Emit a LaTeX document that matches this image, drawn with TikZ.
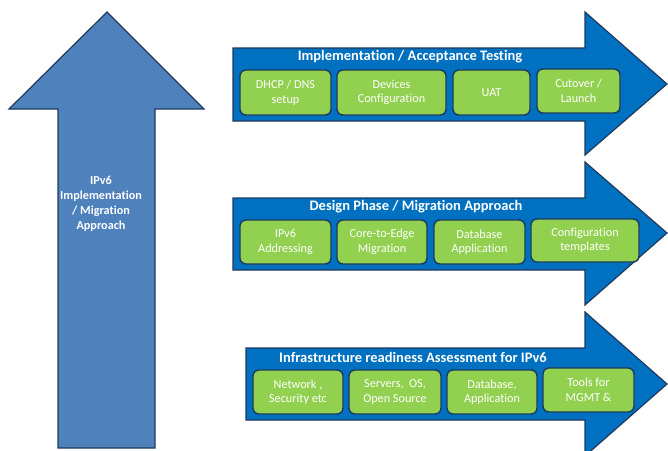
\documentclass[tikz,border=0pt]{standalone}
\usepackage{fontspec}
\setmainfont{Carlito}[Ligatures=NoCommon]
\usetikzlibrary{positioning}

\definecolor{upblue}{HTML}{4F81BD}
\definecolor{phaseblue}{HTML}{0070C0}
\definecolor{taskgreen}{HTML}{92D050}
\definecolor{edgenavy}{HTML}{1F3A5F}

\tikzset{
    bigarrow/.style={fill=upblue, draw=edgenavy, line width=1.2pt, line join=miter},
    phasearrow/.style={fill=phaseblue, draw=edgenavy, line width=1.2pt, line join=miter},
    phasetitle/.style={text=white, inner sep=0pt, font=\fontsize{14.5}{17}\selectfont\bfseries},
    task/.style={fill=taskgreen, draw=edgenavy, line width=1.4pt, rounded corners=6pt,
        text=white, align=center, inner sep=0pt, font=\fontsize{12.2}{14.5}\selectfont},
}

\begin{document}
\begin{tikzpicture}[x=1pt, y=-1pt]
    \useasboundingbox (0,0) rectangle (668,450);

    % overall direction
    \draw[bigarrow] (58,448) -- (58,109) -- (9,109) -- (107,12) -- (204,109) -- (155,109) -- (155,448) -- cycle;
    \node[text=white, align=center, font=\fontsize{12.2}{15}\selectfont\bfseries] (overall) at (101,204)
        {IPv6\\Implementation\\/ Migration\\Approach};

    % phase arrows, top to bottom
    \draw[phasearrow] (233,48) -- (585,48) -- (585,12) -- (667,84) -- (585,155) -- (585,121) -- (233,121) -- cycle;
    \draw[phasearrow] (233,198) -- (585,198) -- (585,162) -- (667,233) -- (585,305) -- (585,270) -- (233,270) -- cycle;
    \draw[phasearrow] (246,348) -- (585,348) -- (585,312) -- (667,384) -- (585,456) -- (585,420) -- (246,420) -- cycle;

    \node[phasetitle] (impl) at (410,57) {Implementation / Acceptance Testing};
    \node[phasetitle] (design) at (416,207) {Design Phase / Migration Approach};
    \node[phasetitle] (assess) at (413,357) {Infrastructure readiness Assessment for IPv6};

    % implementation tasks
    \node[task, minimum width=91pt, minimum height=45pt] (dhcp) at (285.5,92.5) {DHCP / DNS\\setup};
    \node[task, minimum width=109pt, minimum height=45pt] (devcfg) at (391.5,92.5) {Devices\\Configuration};
    \node[task, minimum width=77pt, minimum height=45pt] (uat) at (491.5,92.5) {UAT};
    \node[task, minimum width=83pt, minimum height=44pt] (cutover) at (578.5,91) {Cutover /\\Launch};

    % design tasks
    \node[task, minimum width=91pt, minimum height=44pt] (addr) at (285.5,242) {IPv6\\Addressing};
    \node[task, minimum width=90pt, minimum height=44pt] (coreedge) at (382,242) {Core-to-Edge\\Migration};
    \node[task, minimum width=91pt, minimum height=44pt] (dbapp) at (479.5,242) {Database\\Application};
    \node[task, minimum width=108pt, minimum height=43pt] (templ) at (585,240.5) {Configuration\\templates};

    % assessment tasks
    \node[task, minimum width=90pt, minimum height=44pt] (netsec) at (298,392) {Network ,\\Security etc};
    \node[task, minimum width=92pt, minimum height=44pt] (servers) at (395,392) {Servers,~ OS,\\Open Source};
    \node[task, minimum width=90pt, minimum height=44pt] (dbase) at (492,392) {Database,\\Application};
    \node[task, minimum width=91pt, minimum height=44pt] (tools) at (588.5,390) {Tools for\\MGMT \&};
\end{tikzpicture}
\end{document}
